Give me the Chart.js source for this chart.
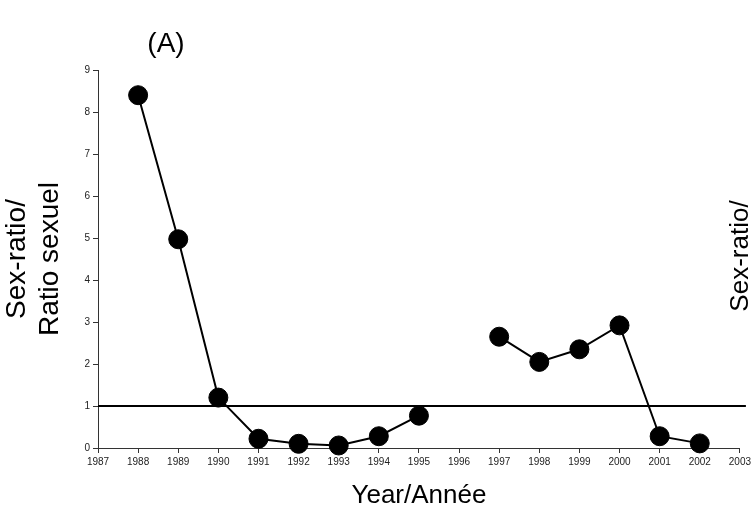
<!DOCTYPE html>
<html>
<head>
<meta charset="utf-8">
<script src="https://cdn.jsdelivr.net/npm/chart.js@4.4.1/dist/chart.umd.min.js"></script>
<style>
  html, body { margin: 0; padding: 0; background: #fff; }
  #wrap { width: 754px; height: 514px; position: relative; }
</style>
</head>
<body>
<div id="wrap"><canvas id="chart"></canvas></div>
<script>
// Sex-ratio par année (1996 manquant)
const YEARS = [1988, 1989, 1990, 1991, 1992, 1993, 1994, 1995, 1996, 1997, 1998, 1999, 2000, 2001, 2002];
const SEX_RATIO = [8.4, 4.97, 1.2, 0.22, 0.1, 0.06, 0.28, 0.77, null, 2.65, 2.05, 2.35, 2.92, 0.28, 0.11];

// ligne de référence (ratio = 1)
const REF_X = [1987, 2003.15];
const REF_Y = [1, 1];

const X_MIN = 1987;
const X_MAX = 2003;
const Y_MIN = 0;
const Y_MAX = 9;

const FONT = '"Liberation Sans", Arial, sans-serif';

const extraText = {
  id: 'extraText',
  afterDraw(chart) {
    const ctx = chart.ctx;
    ctx.save();
    ctx.fillStyle = '#000';
    ctx.font = `28px ${FONT}`;
    ctx.textAlign = 'center';
    ctx.textBaseline = 'middle';
    ctx.fillText('(A)', 166, 44);

    // texte coupé à droite
    ctx.font = `26px ${FONT}`;
    ctx.translate(741, 256);
    ctx.rotate(-Math.PI / 2);
    ctx.fillText('Sex-ratio/', 0, 0);
    ctx.restore();
  },
};

const seriesData = YEARS.map((yr, i) => ({ x: yr, y: SEX_RATIO[i] }));
const refData = REF_X.map((x, i) => ({ x, y: REF_Y[i] }));

new Chart(document.getElementById('chart'), {
  type: 'line',
  data: {
    datasets: [
      {
        data: refData,
        borderColor: '#000',
        borderWidth: 2,
        pointRadius: 0,
        clip: false,
      },
      {
        data: seriesData,
        borderColor: '#000',
        borderWidth: 2,
        backgroundColor: '#000',
        pointBackgroundColor: '#000',
        pointBorderColor: '#000',
        pointRadius: 9.5,
        pointBorderWidth: 1,
        spanGaps: false,
        tension: 0,
        clip: false,
      },
    ],
  },
  options: {
    responsive: true,
    maintainAspectRatio: false,
    animation: false,
    layout: { padding: { left: 0, right: 12, top: 70, bottom: 0 } },
    plugins: {
      legend: { display: false },
      tooltip: { enabled: false },
      title: { display: false },
    },
    scales: {
      x: {
        type: 'linear',
        min: X_MIN,
        max: X_MAX,
        afterFit: s => { s.height = 66; },
        ticks: {
          stepSize: 1,
          autoSkip: false,
          maxRotation: 0,
          padding: 3,
          color: '#222',
          font: { family: FONT, size: 10 },
          callback: v => String(v),
        },
        grid: { drawOnChartArea: false, drawTicks: true, tickLength: 5, color: '#333' },
        border: { display: true, color: '#333', width: 1 },
        title: {
          display: true,
          text: 'Year/Année',
          color: '#000',
          font: { family: FONT, size: 26 },
          padding: { top: 0, bottom: 3 },
        },
      },
      y: {
        min: Y_MIN,
        max: Y_MAX,
        afterFit: s => { s.width = 98; },
        ticks: {
          stepSize: 1,
          padding: 3,
          color: '#222',
          font: { family: FONT, size: 10 },
        },
        grid: { drawOnChartArea: false, drawTicks: true, tickLength: 5, color: '#333' },
        border: { display: true, color: '#333', width: 1 },
        title: {
          display: true,
          text: ['Sex-ratio/', 'Ratio sexuel'],
          color: '#000',
          font: { family: FONT, size: 28, lineHeight: 1.18 },
          padding: { top: 1, bottom: 0 },
        },
      },
    },
  },
  plugins: [extraText],
});
</script>
</body>
</html>
